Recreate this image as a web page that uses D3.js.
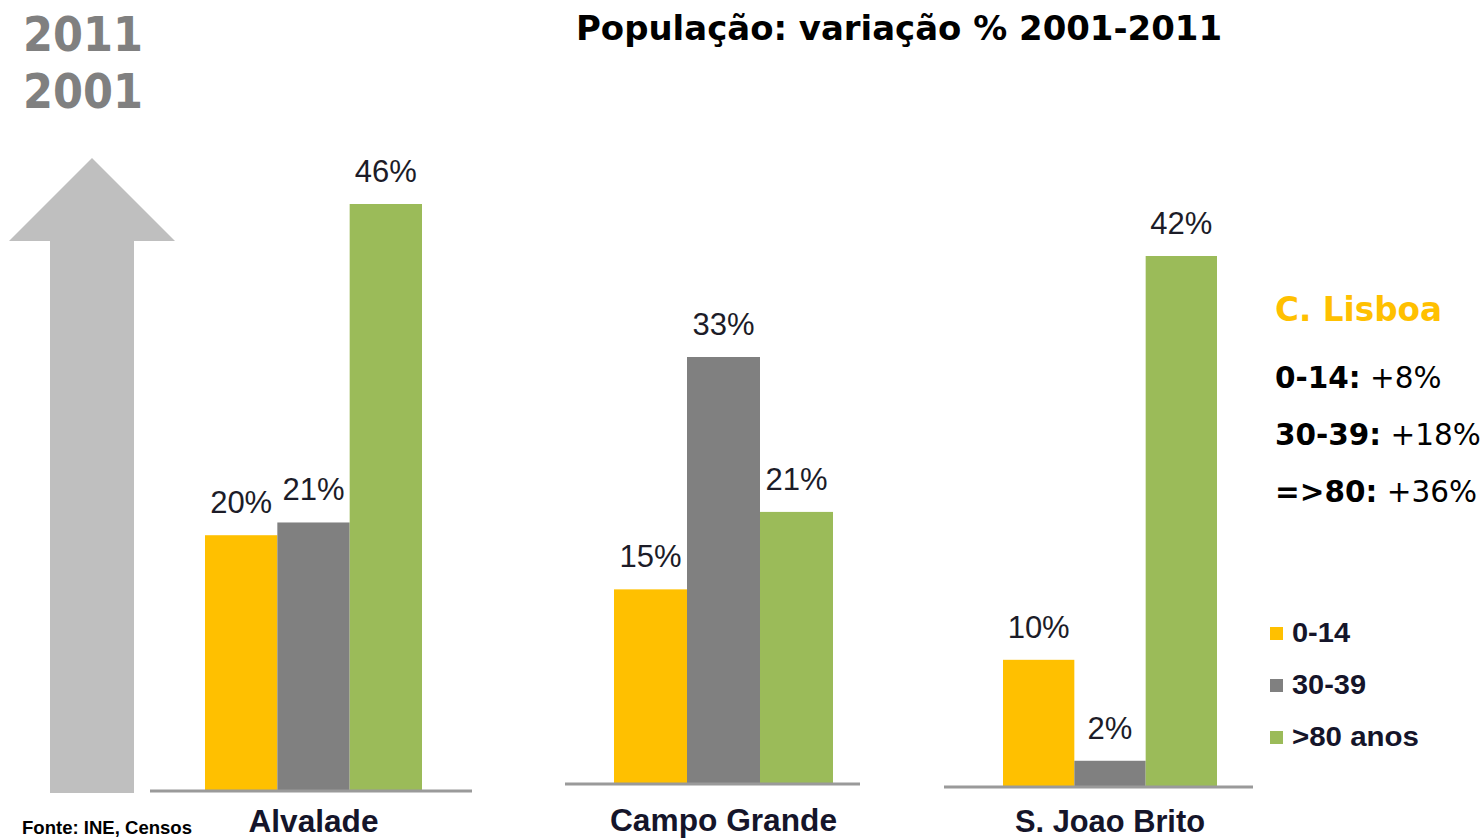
<!DOCTYPE html>
<html>
<head>
	<meta charset="utf-8">
	<title>População: variação % 2001-2011</title>
	<style type="text/css">
body { margin:0; background:#fff; }
svg { display:block; }
.title, .years, .lisboa { font-family:"DejaVu Sans", Verdana, sans-serif; font-weight:bold; }
.years { fill:#808080; }
.val { font-family:"Liberation Sans", Arial, sans-serif; font-size:31px; fill:#1c1c28; text-anchor:middle; }
.cat { font-family:"Liberation Sans Narrow", "Liberation Sans", Arial, sans-serif; font-weight:bold; font-size:32px; fill:#15152a; text-anchor:middle; }
.legend text { font-family:"Liberation Sans Narrow", "Liberation Sans", Arial, sans-serif; font-weight:bold; font-size:28px; fill:#15152a; }
.baseline { stroke:#9a9a9a; stroke-width:3px; }
.source { font-family:"Liberation Sans", Arial, sans-serif; font-weight:bold; font-size:18px; fill:#000; }
	</style>
</head>
<body>

<div id="chart"></div>

<script src="https://cdn.jsdelivr.net/npm/d3@7/dist/d3.min.js"></script>
<script type="text/javascript">

// data
var parishes = ["Alvalade", "Campo Grande", "S. Joao Brito"];
var groups = ["0-14", "30-39", ">80 anos"];
var alvalade = [20, 21, 46];
var campoGrande = [15, 33, 21];
var saoJoaoBrito = [10, 2, 42];
var lisboaGroups = ["0-14:", "30-39:", "=>80:"];
var lisboaValues = ["+8%", "+18%", "+36%"];

var colors = ["#ffc000", "#808080", "#9bbb59"];
var values = [alvalade, campoGrande, saoJoaoBrito];

// each little chart in the slide sits in its own frame
var panels = [
	{bars:[205,422], line:[150,472], base:790, top:204, labelW:130, labelY:832},
	{bars:[614,833], line:[565,860], base:783, top:357, labelW:227, labelY:831},
	{bars:[1003,1217], line:[944,1253], base:786, top:256, labelW:190, labelY:832}
];

var width = 1482, height = 838;

var svg = d3.select("#chart").append("svg")
	.attr("width",width)
	.attr("height",height);

// big grey arrow on the left
svg.append("path")
	.attr("d","M92,158L175,241L134,241L134,793L50,793L50,241L9,241Z")
	.attr("fill","#bfbfbf");

svg.append("text").attr("class","years")
	.attr("x",23).attr("y",51)
	.attr("font-size",48)
	.attr("textLength",120).attr("lengthAdjust","spacingAndGlyphs")
	.text("2011");
svg.append("text").attr("class","years")
	.attr("x",23).attr("y",108)
	.attr("font-size",48)
	.attr("textLength",120).attr("lengthAdjust","spacingAndGlyphs")
	.text("2001");

svg.append("text").attr("class","title")
	.attr("x",899).attr("y",40)
	.attr("text-anchor","middle")
	.attr("font-size",34)
	.attr("textLength",646).attr("lengthAdjust","spacingAndGlyphs")
	.text("População: variação % 2001-2011");

parishes.forEach(function(name,p){
	var cfg = panels[p];
	var vals = values[p];
	var maxV = d3.max(vals);

	var x = d3.scaleBand()
		.domain(groups)
		.range(cfg.bars)
		.padding(0);

	var y = d3.scaleLinear()
		.domain([0,maxV])
		.range([cfg.base,cfg.top]);

	var g = svg.append("g").attr("class","panel");

	g.selectAll(".bar")
		.data(vals)
		.enter().append("rect")
		.attr("class","bar")
		.attr("x",function(d,i){ return x(groups[i]); })
		.attr("y",function(d){ return y(d); })
		.attr("width",x.bandwidth())
		.attr("height",function(d){ return cfg.base - y(d); })
		.attr("fill",function(d,i){ return colors[i]; });

	g.append("line")
		.attr("class","baseline")
		.attr("x1",cfg.line[0]).attr("x2",cfg.line[1])
		.attr("y1",cfg.base+1).attr("y2",cfg.base+1);

	g.selectAll(".val")
		.data(vals)
		.enter().append("text")
		.attr("class","val")
		.attr("x",function(d,i){ return x(groups[i]) + x.bandwidth()/2; })
		.attr("y",function(d){ return y(d) - 22; })
		.text(function(d){ return d + "%"; });

	g.append("text")
		.attr("class","cat")
		.attr("x",(cfg.bars[0]+cfg.bars[1])/2)
		.attr("y",cfg.labelY)
		.attr("textLength",cfg.labelW).attr("lengthAdjust","spacingAndGlyphs")
		.text(name);
});

// C. Lisboa box
svg.append("text").attr("class","lisboa")
	.attr("x",1275).attr("y",321)
	.attr("font-size",34)
	.attr("fill","#ffc000")
	.attr("textLength",167).attr("lengthAdjust","spacingAndGlyphs")
	.text("C. Lisboa");

var lis = svg.selectAll(".lisrow")
	.data(lisboaGroups)
	.enter().append("text")
	.attr("class","lisboa lisrow")
	.attr("x",1275)
	.attr("y",function(d,i){ return 388 + i*57; })
	.attr("font-size",29.5)
	.attr("fill","#000");

lis.append("tspan").text(function(d){ return d; });
lis.append("tspan")
	.attr("font-weight","normal")
	.text(function(d,i){ return " " + lisboaValues[i]; });

// legend
var legendW = [58,74,127];
var legend = svg.append("g").attr("class","legend");

var item = legend.selectAll(".item")
	.data(groups)
	.enter().append("g")
	.attr("class","item")
	.attr("transform",function(d,i){ return "translate(1270,"+(627+i*52)+")"; });

item.append("rect")
	.attr("width",13).attr("height",13)
	.attr("fill",function(d,i){ return colors[i]; });

item.append("text")
	.attr("x",22).attr("y",15)
	.attr("textLength",function(d,i){ return legendW[i]; })
	.attr("lengthAdjust","spacingAndGlyphs")
	.text(String);

svg.append("text").attr("class","source")
	.attr("x",22).attr("y",834)
	.attr("textLength",170).attr("lengthAdjust","spacingAndGlyphs")
	.text("Fonte: INE, Censos");

</script>
</body>
</html>
